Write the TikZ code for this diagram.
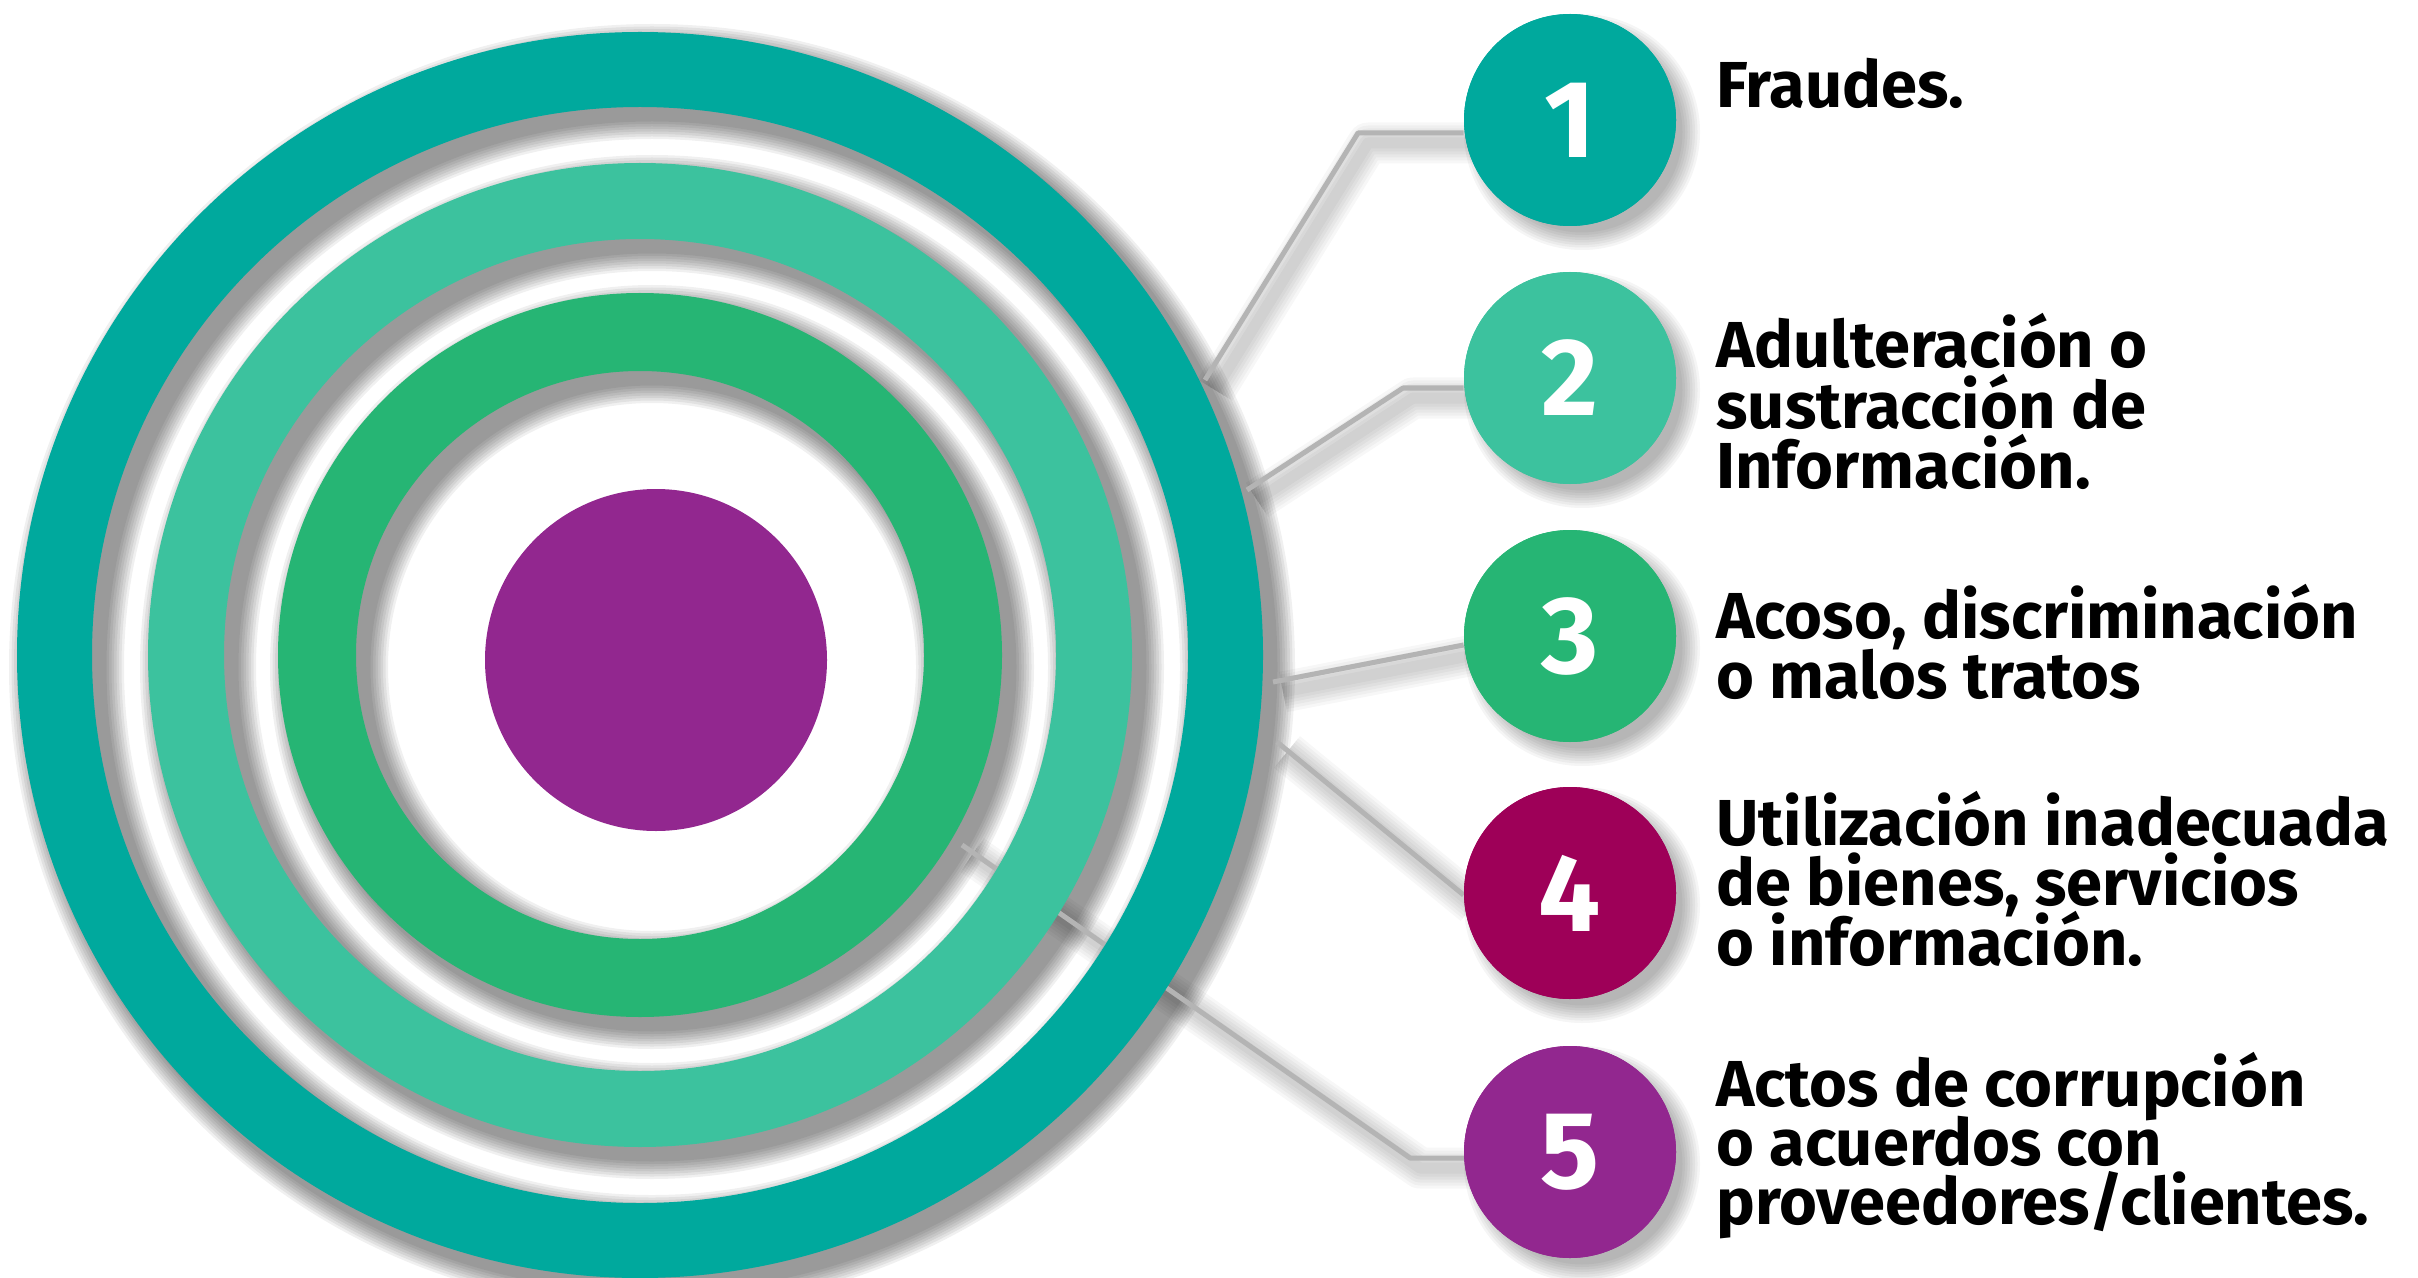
\documentclass[tikz,border=0pt]{standalone}
\usepackage{fontspec}
\setmainfont{Fira Sans}
\usetikzlibrary{calc}
\definecolor{cTeal}{HTML}{00A99D}
\definecolor{cLight}{HTML}{3CC29E}
\definecolor{cGreen}{HTML}{26B574}
\definecolor{cPurple}{HTML}{92278F}
\definecolor{cMagenta}{HTML}{9E0058}
\definecolor{cGray}{HTML}{B4B4B4}
\begin{document}
\begin{tikzpicture}[x=0.5pt,y=-0.5pt,
  ringshade/.style={black,opacity=0.06},
  dotshade/.style={black,opacity=0.04},
  lineshade/.style={black,opacity=0.03,line join=round},
  numcirc/.style={circle,minimum size=106pt,inner sep=0pt,fill=#1,text=white,
    font=\fontsize{55}{55}\selectfont\bfseries},
  conn/.style={draw=cGray,line width=2.5pt,line join=round},
  lbl/.style={anchor=base west,inner sep=0pt,font=\fontsize{32.5}{30}\selectfont\bfseries}
]
\useasboundingbox (0,0) rectangle (2418,1278);
\fill[white] (0,0) rectangle (2418,1278);
\coordinate (C) at (640,655);

% ring shadows
\foreach \r/\w in {585.5/37.5pt, 454/38pt, 323/39pt}{
  \foreach \k in {1,...,8}{
    \draw[ringshade, line width=\w+\k*2.5pt] ($(C)+(12,12)$) circle[radius=\r];
  }
}

% connector 5 (runs beneath the rings)
\coordinate (r5) at (962,845);
\coordinate (k5) at (1410,1158);
\coordinate (e5) at (1500,1158);
\foreach \k in {1,...,6}{
  \draw[lineshade, line width=2.5pt+\k*3pt] ($(r5)+(10,10)$) -- ($(k5)+(10,10)$) -- ($(e5)+(10,10)$);
}
\draw[conn] (r5) -- (k5) -- (e5);

% rings and core
\draw[cTeal, line width=37.5pt] (C) circle[radius=585.5];
\draw[cLight, line width=38pt] (C) circle[radius=454];
\draw[cGreen, line width=39pt] (C) circle[radius=323];
\fill[cPurple] (656,660) circle[radius=171];

% number circle shadows
\foreach \y in {120,378,636,893,1152}{
  \foreach \k in {1,...,8}{
    \fill[dotshade] (1582,{\y+12}) circle[radius=98+\k*2.5];
  }
}
\node[numcirc=cTeal]    (n1) at (1570,120)  {1};
\node[numcirc=cLight]   (n2) at (1570,378)  {2};
\node[numcirc=cGreen]   (n3) at (1570,636)  {3};
\node[numcirc=cMagenta] (n4) at (1570,893)  {4};
\node[numcirc=cPurple]  (n5) at (1570,1152) {5};

% connectors 1-4
\coordinate (r1) at (1205,380);
\coordinate (k1) at (1358,133);
\coordinate (r2) at (1247,490);
\coordinate (k2) at (1403,388);
\coordinate (r3) at (1273,682);
\coordinate (r4) at (1277,742);
\foreach \k in {1,...,6}{
  \draw[lineshade, line width=2.5pt+\k*3pt] ($(r1)+(10,10)$) -- ($(k1)+(10,10)$) -- ($(k1-|n1.west)+(10,10)$);
  \draw[lineshade, line width=2.5pt+\k*3pt] ($(r2)+(10,10)$) -- ($(k2)+(10,10)$) -- ($(k2-|n2.west)+(10,10)$);
  \draw[lineshade, line width=2.5pt+\k*3pt] ($(r3)+(10,10)$) -- ($(n3.west)+(10,19)$);
  \draw[lineshade, line width=2.5pt+\k*3pt] ($(r4)+(10,10)$) -- ($(n4.west)+(10,12)$);
}
\draw[conn] (r1) -- (k1) -- (k1-|n1.west);
\draw[conn] (r2) -- (k2) -- (k2-|n2.west);
\draw[conn] (r3) -- ($(n3.west)+(0,9)$);
\draw[conn] (r4) -- ($(n4.west)+(0,2)$);

% circles drawn again over the connector shadows
\node[numcirc=cTeal]    (m1) at (n1) {1};
\node[numcirc=cLight]   (m2) at (n2) {2};
\node[numcirc=cGreen]   (m3) at (n3) {3};
\node[numcirc=cMagenta] (m4) at (n4) {4};
\node[numcirc=cPurple]  (m5) at (n5) {5};

% labels
\node[lbl] (t1)  at (1716,108)  {Fraudes.};
\node[lbl] (t2a) at (1716,368)  {Adulteración o};
\node[lbl] (t2b) at (1716,428)  {sustracción de};
\node[lbl] (t2c) at (1716,488)  {Información.};
\node[lbl] (t3a) at (1716,638)  {Acoso, discriminación};
\node[lbl] (t3b) at (1716,698)  {o malos tratos};
\node[lbl] (t4a) at (1716,845)  {Utilización inadecuada};
\node[lbl] (t4b) at (1716,905)  {de bienes, servicios};
\node[lbl] (t4c) at (1716,965)  {o información.};
\node[lbl] (t5a) at (1716,1106) {Actos de corrupción};
\node[lbl] (t5b) at (1716,1165) {o acuerdos con};
\node[lbl] (t5c) at (1716,1224) {proveedores/clientes.};
\end{tikzpicture}
\end{document}
